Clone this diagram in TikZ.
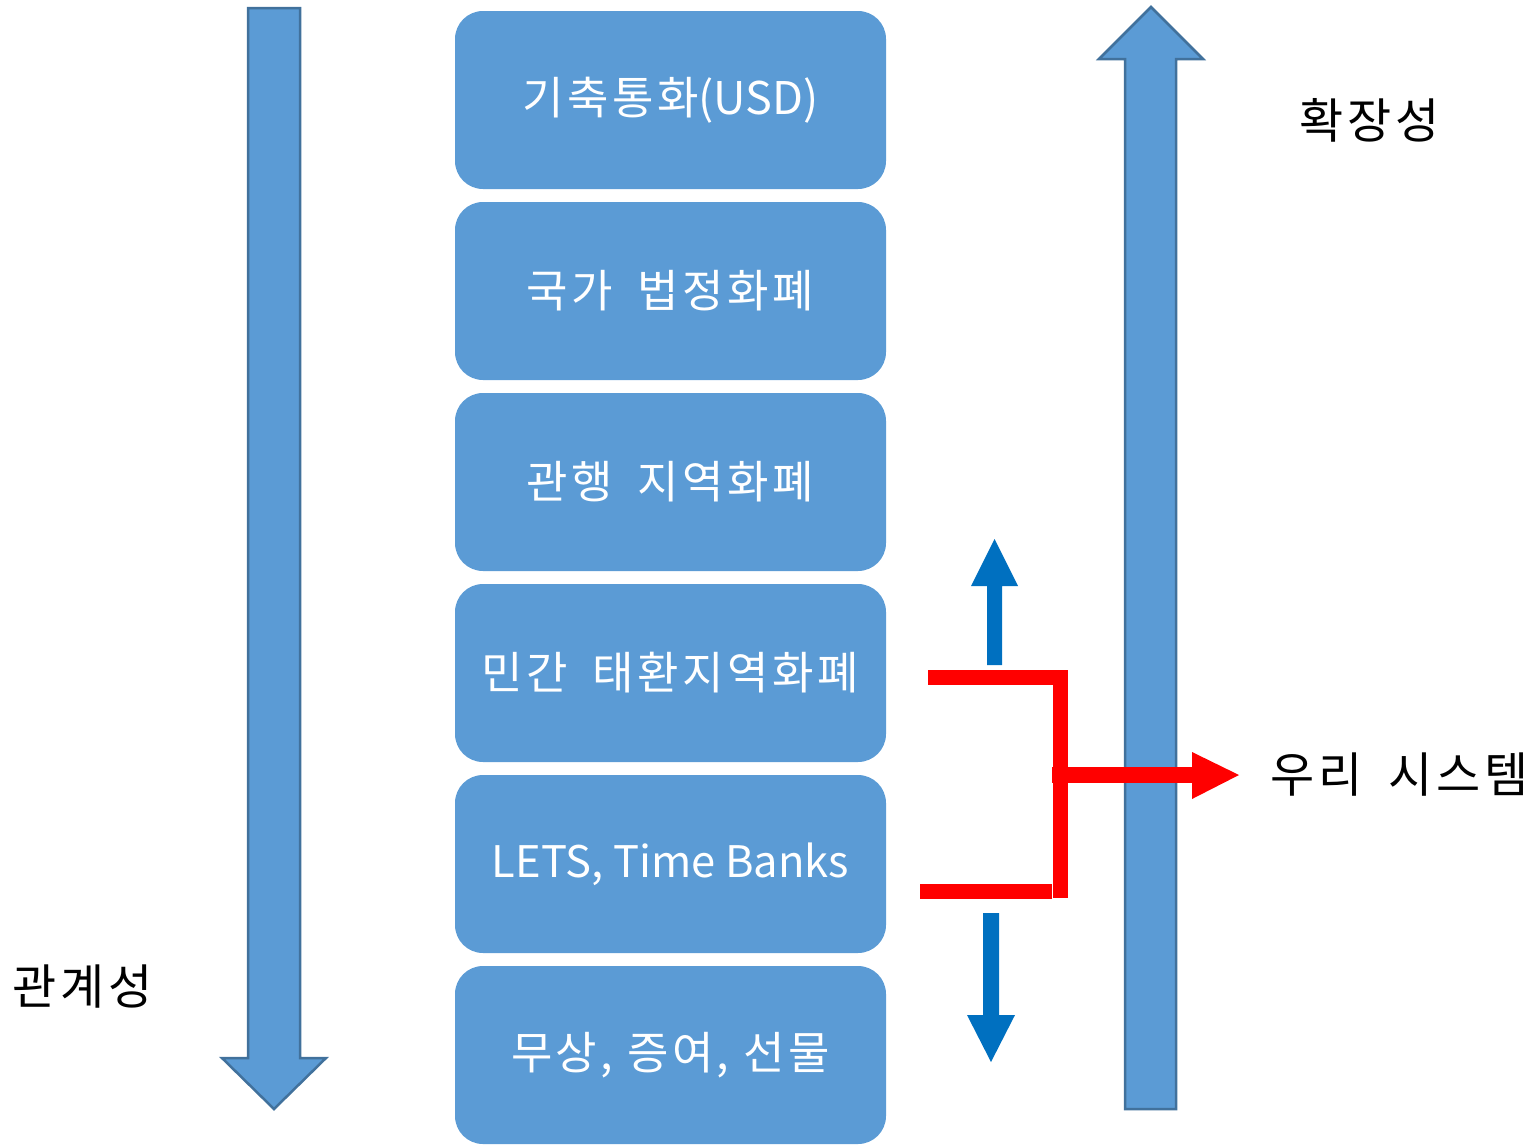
\documentclass[tikz,border=0pt]{standalone}
\usepackage{fontspec}
\setmainfont{Noto Sans CJK KR}
\newfontfamily\kr[LetterSpace=8,WordSpace=1.8]{Noto Sans CJK KR}
\newfontfamily\krtight[LetterSpace=7,WordSpace=1.1]{Noto Sans CJK KR}
\definecolor{boxblue}{HTML}{5B9BD5}
\definecolor{edgeblue}{HTML}{41719C}
\definecolor{arrblue}{HTML}{0070C0}
\definecolor{redline}{HTML}{FF0000}
\begin{document}
\begin{tikzpicture}[x=1pt,y=-1pt,
  level/.style={fill=boxblue,rounded corners=28pt,minimum width=431pt,minimum height=178pt,inner sep=0pt,text=white,font=\fontsize{45}{50}\selectfont},
  label/.style={text=black,font=\kr\fontsize{48}{52}\selectfont,inner sep=0pt},
  bigarrow/.style={fill=boxblue,draw=edgeblue,line width=2.5pt,line join=miter},
  smallarrow/.style={fill=arrblue},
  redbar/.style={draw=redline,line width=15pt,line cap=butt},
  redhead/.style={fill=redline}]
\useasboundingbox (0,0) rectangle (1537,1146);
% level boxes
\node[level] (b1) at (670.5,100) {{\kr 기축통화}(USD)};
\node[level] (b2) at (670.5,291) {\kr 국가 법정화폐};
\node[level] (b3) at (670.5,482) {\kr 관행 지역화폐};
\node[level] (b4) at (670.5,673) {\kr 민간 태환지역화폐};
\node[level] (b5) at (670.5,864) {\fontsize{43.5}{50}\selectfont LETS, Time Banks};
\node[level] (b6) at (670.5,1055) {\krtight 무상, 증여, 선물};
% big arrows
\draw[bigarrow] (248,8) -- (300,8) -- (300,1058) -- (326,1058) -- (274,1109) -- (222,1058) -- (248,1058) -- cycle;
\draw[bigarrow] (1125,1109) -- (1176,1109) -- (1176,59) -- (1203,59) -- (1151,7) -- (1099,59) -- (1125,59) -- cycle;
% labels
\node[label] (l1) at (1370,120) {확장성};
\node[label] (l2) at (83,987) {관계성};
\node[label,anchor=west] (l3) at (1270,775) {우리 시스템};
% red connector
\coordinate (r1) at (928,677);
\coordinate (r2) at (1060.5,677);
\coordinate (r3) at (920,891);
\coordinate (r4) at (1052,891);
\coordinate (r5) at (1052,775);
\coordinate (r6) at (1192,775);
\draw[redbar] (r1) -- (1068,677);
\draw[redbar] (r2) -- (1060.5,898);
\draw[redbar] (r3) -- (r4);
\draw[draw=redline,line width=16pt] (r5) -- (r6);
\fill[redhead] (1192,752) -- (1239,775) -- (1192,799) -- cycle;
% blue small arrows
\fill[smallarrow] (987,665) -- (1002,665) -- (1002,586) -- (1018,586) -- (994.5,539) -- (971,586) -- (987,586) -- cycle;
\fill[smallarrow] (983,913) -- (999,913) -- (999,1015) -- (1015,1015) -- (991,1062) -- (967,1015) -- (983,1015) -- cycle;
\end{tikzpicture}
\end{document}
